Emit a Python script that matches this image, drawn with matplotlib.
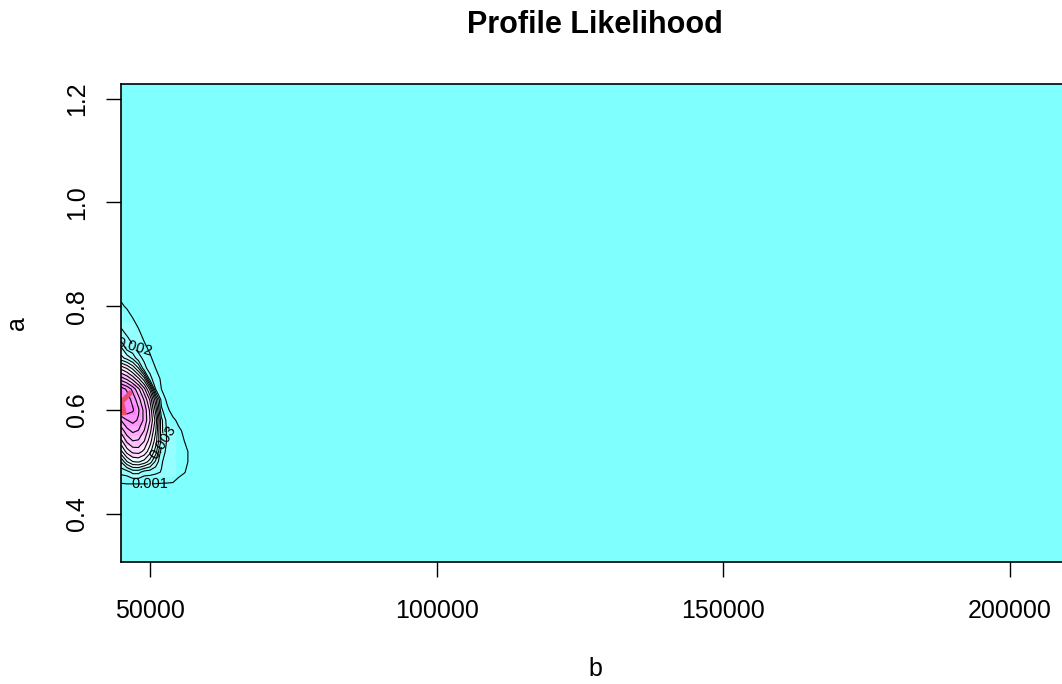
import numpy as np
import matplotlib.pyplot as plt
from matplotlib.colors import ListedColormap, BoundaryNorm, hsv_to_rgb

# ===== DATA =====
# grid of b (columns) and a (rows); likelihood values in units of 1e-3
b_grid = [45000, 46000, 47000, 48000, 49000, 50000, 51000,
          52000, 53000, 54000, 55000, 56000, 57000, 58000]
a_grid = [0.42, 0.44, 0.46, 0.48, 0.50, 0.52, 0.54, 0.56, 0.58, 0.60,
          0.62, 0.64, 0.66, 0.68, 0.70, 0.72, 0.74, 0.76, 0.78, 0.80,
          0.82, 0.84, 0.86]
L_milli = [
    [0.0, 0.0, 0.0, 0.0, 0.0, 0.0, 0.0, 0.0, 0.0, 0.0, 0.0, 0.0, 0.0, 0.0],
    [0.3, 0.3, 0.3, 0.3, 0.3, 0.3, 0.3, 0.3, 0.3, 0.25, 0.15, 0.05, 0.0, 0.0],
    [1.05, 1.1, 1.1, 1.1, 1.1, 1.1, 1.08, 1.05, 1.03, 1.0, 0.8, 0.5, 0.2, 0.0],
    [2.3, 2.5, 3.31, 3.31, 2.5, 2.4, 2.2, 1.95, 1.6, 1.35, 1.2, 1.05, 0.7, 0.2],
    [4.07, 5.92, 6.94, 7.09, 6.61, 5.53, 3.73, 2.1, 1.6, 1.3, 1.15, 1.08, 0.95, 0.4],
    [6.78, 8.48, 9.34, 9.46, 8.74, 7.39, 5.53, 2.5, 1.75, 1.35, 1.15, 1.08, 0.95, 0.3],
    [8.74, 10.24, 10.97, 10.87, 10.02, 8.48, 6.45, 3.73, 1.8, 1.4, 1.15, 1.0, 0.6, 0.1],
    [10.45, 11.67, 12.23, 11.95, 10.97, 9.34, 7.09, 3.31, 1.8, 1.4, 1.15, 0.85, 0.3, 0.0],
    [12.05, 12.95, 13.31, 12.87, 11.76, 10.02, 7.68, 3.31, 1.6, 1.2, 0.8, 0.4, 0.05, 0.0],
    [14.56, 14.63, 14.15, 13.13, 11.67, 9.80, 6.61, 2.2, 1.2, 0.6, 0.2, 0.0, 0.0, 0.0],
    [15.11, 14.56, 13.65, 12.42, 10.87, 8.86, 5.32, 1.6, 0.8, 0.3, 0.0, 0.0, 0.0, 0.0],
    [14.56, 13.82, 12.69, 11.27, 9.34, 6.78, 2.0, 1.0, 0.4, 0.1, 0.0, 0.0, 0.0, 0.0],
    [11.47, 10.77, 9.69, 8.22, 6.45, 2.4, 1.3, 0.9, 0.3, 0.0, 0.0, 0.0, 0.0, 0.0],
    [8.74, 7.95, 6.78, 5.11, 2.3, 1.6, 1.0, 0.5, 0.15, 0.0, 0.0, 0.0, 0.0, 0.0],
    [5.32, 4.63, 3.73, 2.3, 1.8, 1.15, 0.65, 0.4, 0.15, 0.0, 0.0, 0.0, 0.0, 0.0],
    [4.07, 2.5, 2.1, 1.7, 1.2, 0.8, 0.45, 0.2, 0.0, 0.0, 0.0, 0.0, 0.0, 0.0],
    [2.3, 2.05, 1.75, 1.3, 0.85, 0.6, 0.3, 0.1, 0.0, 0.0, 0.0, 0.0, 0.0, 0.0],
    [1.95, 1.65, 1.3, 0.95, 0.65, 0.4, 0.2, 0.05, 0.0, 0.0, 0.0, 0.0, 0.0, 0.0],
    [1.45, 1.25, 0.95, 0.7, 0.45, 0.2, 0.05, 0.0, 0.0, 0.0, 0.0, 0.0, 0.0, 0.0],
    [1.1, 0.9, 0.6, 0.35, 0.15, 0.0, 0.0, 0.0, 0.0, 0.0, 0.0, 0.0, 0.0, 0.0],
    [0.85, 0.5, 0.25, 0.1, 0.0, 0.0, 0.0, 0.0, 0.0, 0.0, 0.0, 0.0, 0.0, 0.0],
    [0.5, 0.2, 0.0, 0.0, 0.0, 0.0, 0.0, 0.0, 0.0, 0.0, 0.0, 0.0, 0.0, 0.0],
    [0.0, 0.0, 0.0, 0.0, 0.0, 0.0, 0.0, 0.0, 0.0, 0.0, 0.0, 0.0, 0.0, 0.0],
]
contour_levels = [k / 1000 for k in range(1, 16)]
labelled_levels = [0.001, 0.002, 0.003]
# where the contour labels sit (b, a)
label_spots = [(50000, 0.459), (47200, 0.718), (52300, 0.54)]

# red profile path
ridge_b = [46750, 45050, 45600]
ridge_a = [0.635, 0.615, 0.590]

xticks = [50000, 100000, 150000, 200000]
yticks = [0.4, 0.6, 0.8, 1.0, 1.2]
xlim = (44950, 210300)
ylim = (0.307, 1.228)


# ===== cm.colors like palette =====
def cm_colors(n):
    k = n // 2
    s1 = np.linspace(0.5, 0.5 / k, k)
    s2 = np.linspace(0, 0.5, n - k + 1)[1:]
    cols = [hsv_to_rgb((6 / 12, s, 1)) for s in s1]
    cols += [hsv_to_rgb((10 / 12, s, 1)) for s in s2]
    return cols


plt.rcParams['font.family'] = ['Liberation Sans', 'DejaVu Sans']

Z = np.array(L_milli) * 1e-3
B, A = np.meshgrid(b_grid, a_grid)

fig = plt.figure(figsize=(10.62, 6.84), dpi=100)
W, H = 1062, 684
ax = fig.add_axes([121 / W, (H - 562) / H, (1069 - 121) / W, (562 - 84) / H])

ncol = 12
cols = cm_colors(ncol)
ax.set_facecolor(cols[0])
norm = BoundaryNorm(np.linspace(0, Z.max(), ncol + 1), ncol)
ax.pcolormesh(b_grid, a_grid, Z, cmap=ListedColormap(cols), norm=norm,
              shading='nearest')

cs = ax.contour(B, A, Z, levels=contour_levels, colors='black', linewidths=0.8)
ax.clabel(cs, levels=labelled_levels, inline=True, fontsize=10.5, fmt='%.3f',
          manual=label_spots)

ax.plot(ridge_b, ridge_a, color='#E8506A', lw=3.5, solid_capstyle='butt')

ax.set_xlim(*xlim)
ax.set_ylim(*ylim)
ax.set_xticks(xticks)
ax.set_xticklabels([str(v) for v in xticks])
ax.set_yticks(yticks)
ax.set_yticklabels([f'{v:.1f}' for v in yticks])
ax.tick_params(axis='both', length=11, width=1, labelsize=18)
ax.tick_params(axis='x', pad=16)
ax.tick_params(axis='y', pad=12)
plt.setp(ax.get_yticklabels(), rotation=90, va='center')
for sp in ax.spines.values():
    sp.set_linewidth(1.2)

ax.set_xlabel('b', fontsize=18, labelpad=24)
ax.set_ylabel('a', fontsize=18, labelpad=26)
ax.set_title('Profile Likelihood', fontsize=22, fontweight='bold', pad=37)

fig.savefig('out.png', dpi=100)
